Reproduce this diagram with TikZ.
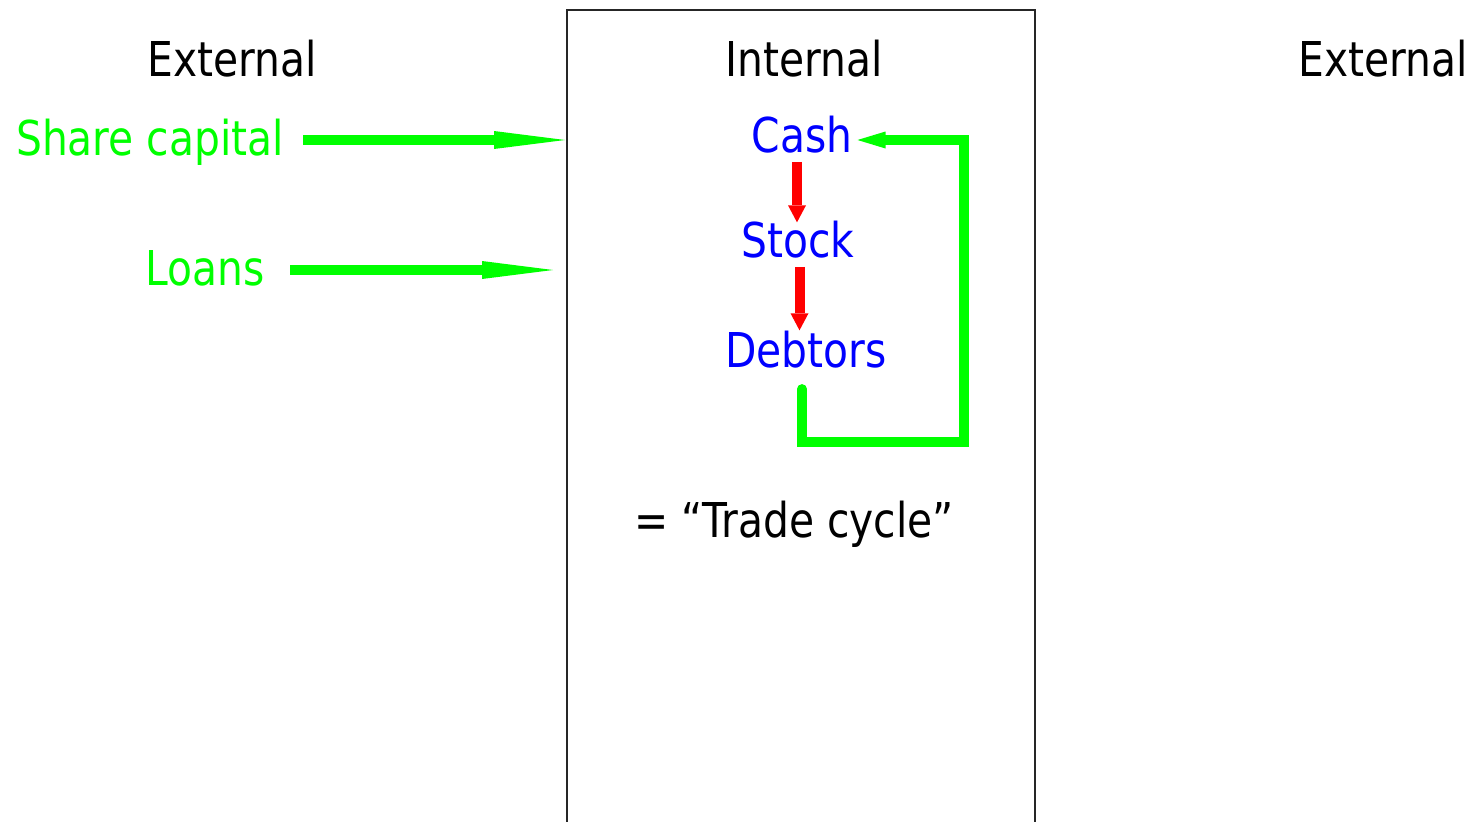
\documentclass[tikz,border=0pt]{standalone}
\usepackage{fontspec}
\setmainfont{DejaVu Sans}[FakeStretch=0.85]
\usetikzlibrary{arrows.meta}
\definecolor{flowgreen}{RGB}{0,255,0}
\definecolor{itemblue}{RGB}{0,0,255}
\definecolor{steprred}{RGB}{255,0,0}
\begin{document}
\begin{tikzpicture}[x=1pt,y=-1pt,
  lbl/.style={anchor=base, inner sep=0pt, font=\fontsize{48}{58}\selectfont},
  inflow/.style={draw=flowgreen, line width=10pt,
    -{Triangle[length=71pt,width=18pt,line width=0pt]}},
  stepflow/.style={draw=steprred, line width=10pt,
    -{Triangle[length=17pt,width=18pt,line width=0pt]}},
  returnflow/.style={draw=flowgreen, line width=9.5pt, line cap=round,
    line join=miter, -{Triangle[length=28pt,width=17pt,line width=0pt]}},
  boundary/.style={draw=black!85, line width=2pt}]
\useasboundingbox (0,0) rectangle (1478,822);

% the firm's boundary, open at the bottom
\draw[boundary] (567,830) -- (567,10) -- (1035,10) -- (1035,830);

% headings
\node[lbl] (extL) at (232,76) {External};
\node[lbl] (intl) at (804,76) {Internal};
\node[lbl] (extR) at (1383,76) {External};

% external sources of finance
\node[lbl, text=flowgreen] (share) at (150,155) {Share capital};
\node[lbl, text=flowgreen] (loans) at (205,285) {Loans};
\coordinate (shareOut) at (303,140);
\coordinate (shareIn)  at (565,140);
\coordinate (loansOut) at (290,270);
\coordinate (loansIn)  at (553,270);
\draw[inflow] (shareOut) -- (shareIn);
\draw[inflow] (loansOut) -- (loansIn);

% the working capital items
\node[lbl, text=itemblue] (cash)    at (802,152) {Cash};
\node[lbl, text=itemblue] (stock)   at (798,257) {Stock};
\node[lbl, text=itemblue] (debtors) at (806,367) {Debtors};

\draw[stepflow] ([xshift=-5pt,yshift=-9pt]cash.south)
  -- ([xshift=-5pt,yshift=-2pt]cash.south |- stock.north);
\draw[stepflow] ([xshift=1.5pt,yshift=-9pt]stock.south)
  -- ([xshift=1.5pt]stock.south |- debtors.north);

% cash collected from debtors returns to cash
\coordinate (loopCorner) at (964,442);
\draw[returnflow] ([xshift=-4pt,yshift=-21pt]debtors.south)
  |- (loopCorner) |- ([xshift=5pt]cash.east |- 0,140);

\node[lbl] (trade) at (794,537) {= “Trade cycle”};
\end{tikzpicture}
\end{document}
